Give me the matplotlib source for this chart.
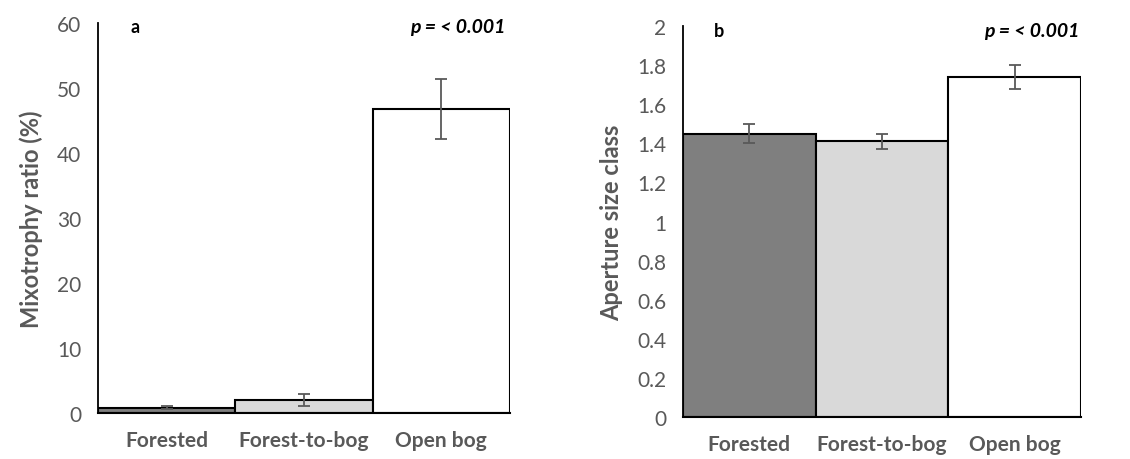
import matplotlib
matplotlib.use('Agg')
import matplotlib.pyplot as plt

plt.rcParams['font.family'] = ['Lato', 'DejaVu Sans']

sites = ['Forested', 'Forest-to-bog', 'Open bog']
colors = ['#7f7f7f', '#d9d9d9', '#ffffff']

mixo_mean = [0.8, 2.0, 46.8]
mixo_err = [0.2, 0.85, 4.6]

aperture_mean = [1.45, 1.41, 1.74]
aperture_err = [0.05, 0.04, 0.06]

grey = '#595959'

fig = plt.figure(figsize=(11.3, 4.6), dpi=100)
ax_a = fig.add_axes([0.0867, 0.1, 0.3646, 0.848])
ax_b = fig.add_axes([0.6044, 0.0913, 0.3522, 0.8497])


def draw_panel(ax, means, errs, ylim, yticks, ytick_labels, ylabel, letter, p_x):
    x = range(len(sites))
    ax.bar(x, means, width=1.0, color=colors, edgecolor='black', linewidth=1.5,
           yerr=errs, error_kw=dict(ecolor=grey, elinewidth=1.3, capsize=4, capthick=1.3))
    ax.set_xlim(-0.5, 2.5)
    ax.set_ylim(*ylim)
    ax.set_yticks(yticks)
    ax.set_yticklabels(ytick_labels)
    ax.set_xticks(list(x))
    ax.set_xticklabels(sites, fontweight='bold', fontsize=15, color=grey)
    ax.tick_params(axis='x', length=0, pad=12)
    ax.tick_params(axis='y', length=0, pad=12, labelsize=15, labelcolor=grey)
    for s in ['top', 'right']:
        ax.spines[s].set_visible(False)
    ax.spines['left'].set_linewidth(1.3)
    ax.spines['bottom'].set_linewidth(1.5)
    ax.set_ylabel(ylabel, fontsize=17, fontweight='bold', color=grey, labelpad=10)
    ax.text(0.09, 0.99, letter, transform=ax.transAxes, fontsize=13, fontweight='bold',
            va='center', ha='center')
    ax.text(p_x, 0.99, 'p = < 0.001', transform=ax.transAxes, fontsize=14,
            fontweight='bold', fontstyle='italic', va='center', ha='right')


draw_panel(ax_a, mixo_mean, mixo_err, (0, 60), range(0, 61, 10),
           [str(v) for v in range(0, 61, 10)], 'Mixotrophy ratio (%)', 'a', 0.99)

ap_ticks = [i * 0.2 for i in range(11)]
ap_labels = ['0', '0.2', '0.4', '0.6', '0.8', '1', '1.2', '1.4', '1.6', '1.8', '2']
draw_panel(ax_b, aperture_mean, aperture_err, (0, 2), ap_ticks, ap_labels,
           'Aperture size class', 'b', 0.995)

fig.savefig('out.png', dpi=100)
